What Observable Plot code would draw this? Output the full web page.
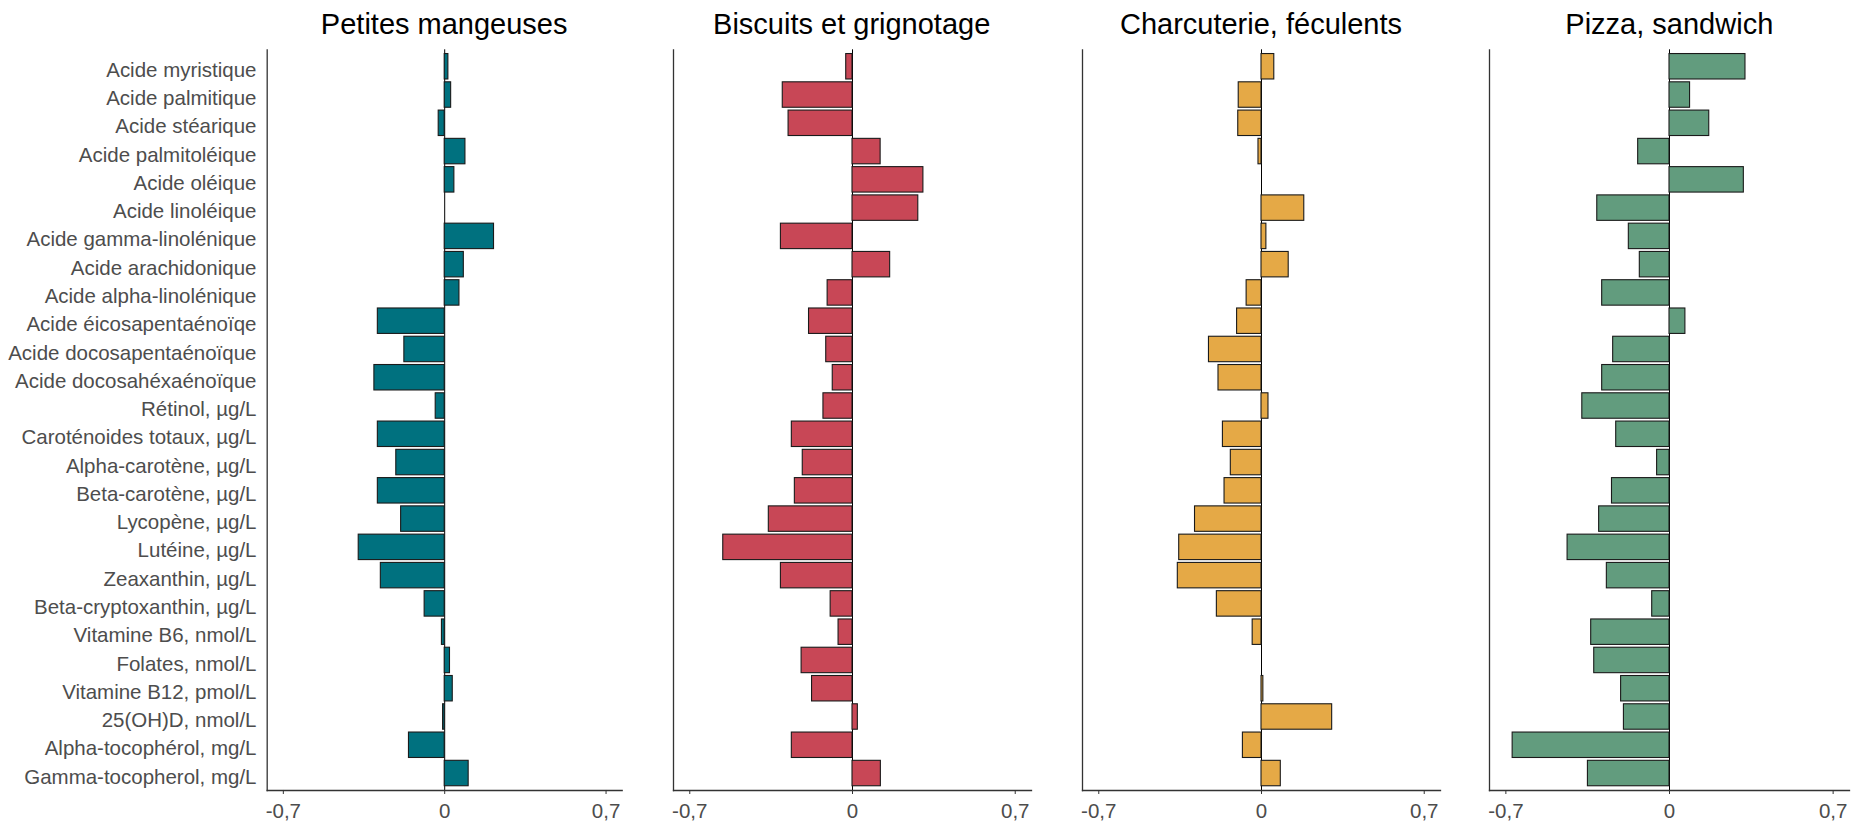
<!DOCTYPE html>
<html><head><meta charset="utf-8">
<script src="https://cdn.jsdelivr.net/npm/d3@7"></script>
<script src="https://cdn.jsdelivr.net/npm/@observablehq/plot@0.6"></script>
<style>
html,body{margin:0;padding:0;background:#fff;}
#chart{position:relative;width:1865px;height:824px;font-family:"Liberation Sans",Arial,sans-serif;overflow:hidden;}
.title{position:absolute;top:8px;text-align:center;font-size:29px;color:#000;white-space:nowrap;}
.panel{position:absolute;top:40px;}
</style></head><body><div id="chart"></div>
<script>
const categories = [
  "Acide myristique", "Acide palmitique", "Acide stéarique", "Acide palmitoléique",
  "Acide oléique", "Acide linoléique", "Acide gamma-linolénique", "Acide arachidonique",
  "Acide alpha-linolénique", "Acide éicosapentaénoïqe", "Acide docosapentaénoïque",
  "Acide docosahéxaénoïque", "Rétinol, µg/L", "Caroténoides totaux, µg/L",
  "Alpha-carotène, µg/L", "Beta-carotène, µg/L", "Lycopène, µg/L", "Lutéine, µg/L",
  "Zeaxanthin, µg/L", "Beta-cryptoxanthin, µg/L", "Vitamine B6, nmol/L", "Folates, nmol/L",
  "Vitamine B12, pmol/L", "25(OH)D, nmol/L", "Alpha-tocophérol, mg/L", "Gamma-tocopherol, mg/L"
];
const titles = ["Petites mangeuses", "Biscuits et grignotage", "Charcuterie, féculents", "Pizza, sandwich"];
const petitesMangeuses = [0.016, 0.028, -0.026, 0.090, 0.042, 0, 0.214, 0.083, 0.064, -0.290, -0.175, -0.305, -0.039,
  -0.290, -0.210, -0.290, -0.189, -0.373, -0.277, -0.087, -0.012, 0.023, 0.035, -0.007, -0.155, 0.104];
const biscuitsGrignotage = [-0.027, -0.300, -0.275, 0.121, 0.305, 0.283, -0.308, 0.162, -0.107, -0.187, -0.113, -0.085, -0.125,
  -0.261, -0.214, -0.248, -0.360, -0.556, -0.308, -0.094, -0.060, -0.219, -0.174, 0.023, -0.261, 0.122];
const charcuterieFeculents = [0.055, -0.098, -0.100, -0.013, 0, 0.184, 0.021, 0.117, -0.064, -0.105, -0.226, -0.185, 0.030,
  -0.166, -0.132, -0.159, -0.286, -0.354, -0.360, -0.192, -0.038, 0, 0.008, 0.304, -0.080, 0.083];
const pizzaSandwich = [0.325, 0.088, 0.170, -0.134, 0.318, -0.309, -0.174, -0.127, -0.288, 0.068, -0.241, -0.288, -0.373,
  -0.228, -0.053, -0.246, -0.301, -0.436, -0.268, -0.074, -0.335, -0.322, -0.207, -0.195, -0.671, -0.349];
const xTicks = [-0.7, 0, 0.7];

const series = [petitesMangeuses, biscuitsGrignotage, charcuterieFeculents, pizzaSandwich];
const fills = ["#00717f", "#c84756", "#e5a946", "#629c7e"];
const layout = [{left: 266.7, width: 355}, {left: 672.7, width: 358}, {left: 1082, width: 358}, {left: 1489.3, width: 360}];

const chart = document.getElementById("chart");
series.forEach((vals, i) => {
  const data = categories.map((c, j) => ({name: c, value: vals[j]}));
  const {left, width: w} = layout[i];
  const ml = i === 0 ? left : 10;
  const mr = 12;
  const svg = Plot.plot({
    width: ml + w + mr,
    height: 784,
    marginTop: 9.3,
    marginBottom: 34,
    marginLeft: ml,
    marginRight: mr,
    x: {domain: [-0.77, 0.77]},
    y: {domain: categories, paddingInner: 0.1, paddingOuter: 0.15, round: false, axis: i === 0 ? undefined : null},
    style: {fontSize: "20.5px", fontFamily: "'Liberation Sans', Arial, sans-serif", color: "#4d4d4d", background: "transparent", overflow: "visible"},
    marks: [
      Plot.ruleX([0], {stroke: "#000", strokeWidth: 1}),
      Plot.barX(data, {x: "value", y: "name", fill: fills[i], stroke: "#1a1a1a", strokeWidth: 1.1}),
      Plot.frame({anchor: "left", stroke: "#333", strokeWidth: 1.3}),
      Plot.frame({anchor: "bottom", stroke: "#333", strokeWidth: 1.3}),
      Plot.axisX(xTicks, {tickFormat: d => String(d).replace(".", ","), tickSize: 4, tickPadding: 8.6, label: null, stroke: "#333"}),
      i === 0 ? Plot.axisY({tickSize: 0, tickPadding: 10.7, dy: 3.5, label: null}) : null
    ]
  });
  const holder = document.createElement("div");
  holder.className = "panel";
  holder.style.left = (left - ml) + "px";
  holder.appendChild(svg);
  chart.appendChild(holder);

  const t = document.createElement("div");
  t.className = "title";
  t.textContent = titles[i];
  t.style.left = left + "px";
  t.style.width = w + "px";
  chart.appendChild(t);
});
</script>
</body></html>
